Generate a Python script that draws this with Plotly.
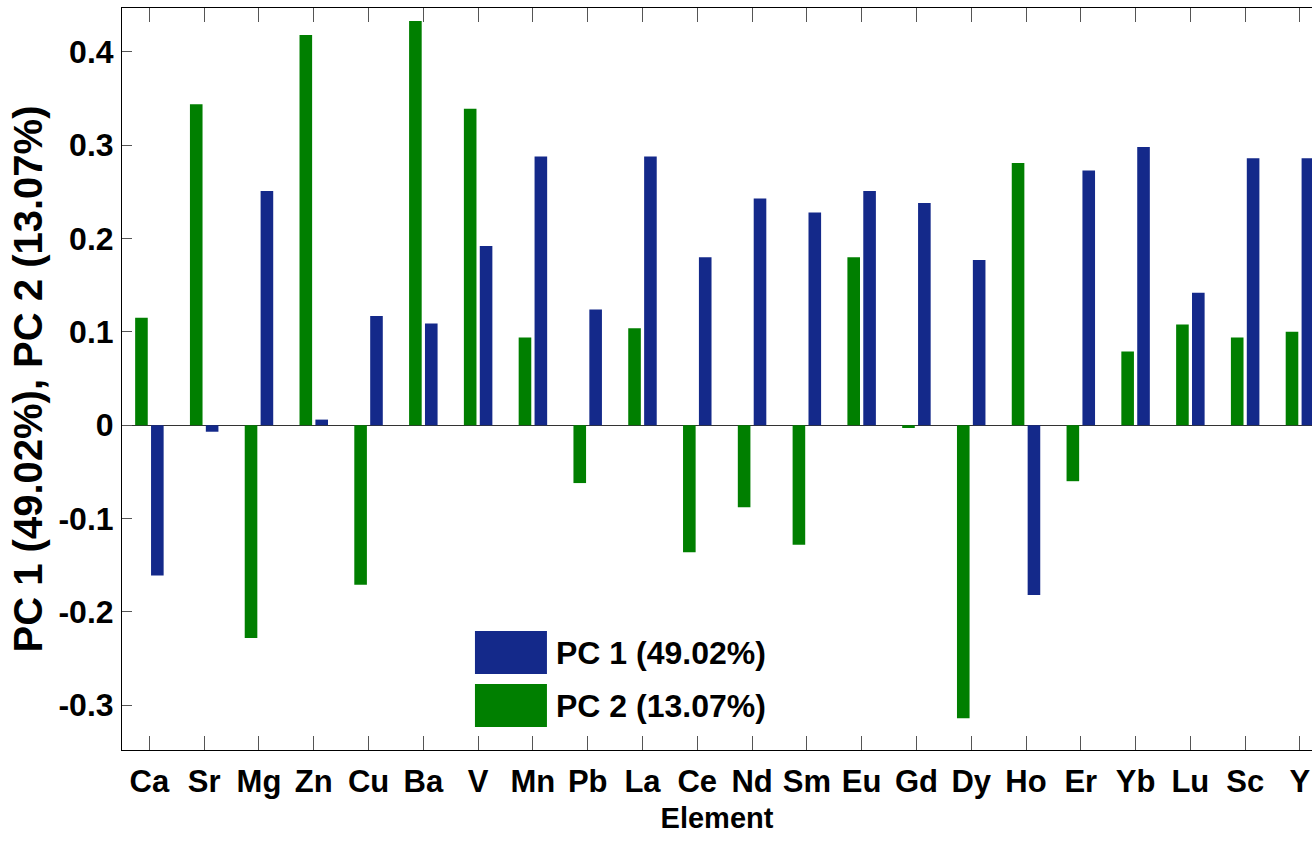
import plotly.graph_objects as go

elements = ["Ca", "Sr", "Mg", "Zn", "Cu", "Ba", "V", "Mn", "Pb", "La", "Ce",
            "Nd", "Sm", "Eu", "Gd", "Dy", "Ho", "Er", "Yb", "Lu", "Sc", "Y"]
pc1 = [-0.161, -0.007, 0.251, 0.006, 0.117, 0.109, 0.192, 0.288, 0.124, 0.288, 0.180,
       0.243, 0.228, 0.251, 0.238, 0.177, -0.182, 0.273, 0.298, 0.142, 0.286, 0.286]
pc2 = [0.115, 0.344, -0.228, 0.418, -0.171, 0.433, 0.339, 0.094, -0.062, 0.104, -0.136,
       -0.088, -0.128, 0.180, -0.003, -0.314, 0.281, -0.060, 0.079, 0.108, 0.094, 0.100]
y_ticks = [-0.3, -0.2, -0.1, 0, 0.1, 0.2, 0.3, 0.4]
y_tick_text = ["-0.3", "-0.2", "-0.1", "0", "0.1", "0.2", "0.3", "0.4"]
series_names = ["PC 1 (49.02%)", "PC 2 (13.07%)"]

BLUE = "#14298a"
GREEN = "#007f00"
FONT = "Liberation Sans Narrow, Arial Narrow, Liberation Sans, Arial"

x_idx = list(range(len(elements)))

fig = go.Figure()
fig.add_trace(go.Bar(x=x_idx, y=pc2, name=series_names[1], marker=dict(color=GREEN, line=dict(width=0)),
                     width=0.23, offset=-0.26, showlegend=False))
fig.add_trace(go.Bar(x=x_idx, y=pc1, name=series_names[0], marker=dict(color=BLUE, line=dict(width=0)),
                     width=0.23, offset=0.03, showlegend=False))

# custom legend with large swatches (paper coords)
legend_rows = [(series_names[0], BLUE, 0.1604, 0.1024), (series_names[1], GREEN, 0.0889, 0.0310)]
for name, col, ytop, ybot in legend_rows:
    fig.add_shape(type="rect", xref="paper", yref="paper", x0=0.2966, x1=0.3571, y0=ybot, y1=ytop,
                  fillcolor=col, line=dict(width=0))
    fig.add_annotation(xref="paper", yref="paper", x=0.3630, y=(ytop + ybot) / 2, text=name,
                       showarrow=False, xanchor="left", yanchor="middle",
                       font=dict(family=FONT, size=32, color="black", weight="bold"))

fig.update_layout(
    width=1312, height=849,
    margin=dict(l=122, r=0, t=8, b=99),
    plot_bgcolor="white", paper_bgcolor="white",
    barmode="overlay",
    font=dict(family=FONT, size=31, color="black", weight="bold"),
)
fig.update_xaxes(
    range=[-0.5, 21.22],
    tickmode="array", tickvals=x_idx, ticktext=elements,
    showline=True, linecolor="black", linewidth=1, mirror="allticks",
    ticks="inside", ticklen=14, tickcolor="#555", tickwidth=1,
    showgrid=False, zeroline=False,
    tickfont=dict(family=FONT, size=31, color="black", weight="bold"),
    ticklabelstandoff=4,
    title=dict(text="Element", standoff=9, font=dict(family=FONT, size=29, color="black", weight="bold")),
)
fig.update_yaxes(
    range=[-0.348, 0.447],
    tickmode="array", tickvals=y_ticks, ticktext=y_tick_text,
    showline=True, linecolor="black", linewidth=1, mirror=False,
    ticks="inside", ticklen=10, tickcolor="#555", tickwidth=1,
    showgrid=False, zeroline=True, zerolinecolor="#333", zerolinewidth=1,
    tickfont=dict(family=FONT, size=32, color="black", weight="bold"),
    ticklabelstandoff=1,
    title=dict(text="PC 1 (49.02%), PC 2 (13.07%)", standoff=3,
               font=dict(family="Liberation Sans, Arial", size=40, color="black", weight="bold")),
)

fig.write_html("out.html")
